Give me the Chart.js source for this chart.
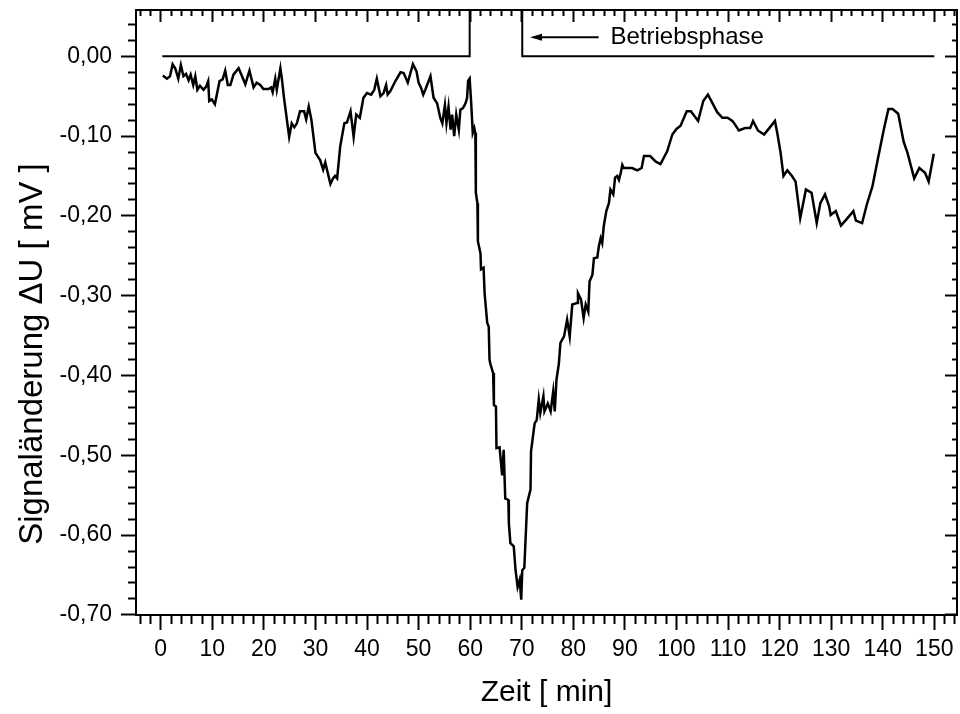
<!DOCTYPE html>
<html>
<head>
<meta charset="utf-8">
<script src="https://cdn.jsdelivr.net/npm/chart.js@4/dist/chart.umd.min.js"></script>
<style>
  html, body { margin: 0; padding: 0; background: #fff; }
  #wrap { width: 960px; height: 714px; }
</style>
</head>
<body>
<div id="wrap"><canvas id="myChart" width="960" height="714"></canvas></div>
<script>
// Signal trace
const timeMin = [
  0.4, 1.2, 1.8, 2.3, 2.8, 3.4, 3.9, 4.4, 4.9, 5.4, 5.8, 6.3, 6.7, 7.1, 7.6, 8.3, 8.8, 9.2, 9.4, 9.9,
  10.5, 11.4, 12.0, 12.5, 13.0, 13.5, 14.1, 15.1, 15.7, 16.4, 17.2, 18.0, 18.6, 19.3, 19.9, 20.9, 21.4, 21.7, 22.2, 22.5,
  23.2, 23.5, 23.9, 24.9, 25.4, 25.9, 26.4, 27.0, 27.8, 28.2, 28.7, 29.2, 30.0, 30.9, 31.5, 31.9, 32.9, 33.4, 33.8, 34.2,
  34.8, 35.6, 36.1, 36.8, 37.4, 37.9, 38.6, 39.3, 40.0, 40.8, 41.4, 41.9, 42.6, 43.2, 43.7, 44.0, 44.5, 45.5, 46.5, 47.1,
  47.9, 48.9, 49.6, 50.0, 50.5, 50.9, 51.3, 52.3, 52.9, 53.6, 54.2, 54.6, 55.1, 55.4, 55.8, 56.2, 56.5, 56.9, 57.3, 57.8,
  58.1, 58.6, 59.1, 59.4, 59.6, 59.9, 60.2, 60.5, 60.8, 61.0, 61.1, 61.4, 61.5, 62.0, 62.1, 62.6, 62.8, 63.3, 63.6, 63.75,
  63.9, 64.45, 64.6, 65.0, 65.1, 65.7, 66.2, 66.5, 66.8, 67.4, 67.5, 67.8, 68.45, 68.8, 69.2, 69.6, 69.9, 70.1, 70.5, 71.05,
  71.7, 71.8, 72.5, 72.9, 73.3, 73.6, 74.2, 74.4, 75.05, 75.6, 76.1, 76.4, 76.74, 77.2, 77.5, 78.2, 78.8, 79.3, 79.8, 80.8,
  80.9, 81.5, 82.0, 82.4, 82.9, 83.15, 83.7, 84.0, 84.65, 84.95, 85.3, 85.6, 85.9, 86.4, 86.9, 87.2, 87.75, 88.1, 88.5, 88.85,
  89.2, 89.5, 89.8, 90.5, 91.4, 92.4, 93.25, 93.7, 94.9, 96.0, 96.9, 98.2, 99.2, 100.0, 100.8, 102.0, 102.8, 104.2, 105.2, 106.1,
  107.0, 107.9, 108.9, 109.9, 110.85, 111.3, 112.1, 113.3, 114.3, 114.85, 115.8, 117.0, 118.0, 119.1, 119.6, 120.2, 120.75, 121.5, 122.4, 123.1,
  124.0, 125.1, 126.2, 127.2, 127.9, 128.8, 129.6, 129.9, 130.9, 131.9, 133.0, 134.3, 134.8, 136.0, 136.9, 138.0, 139.1, 140.2, 141.1, 141.9,
  143.0, 144.05, 144.8, 146.1, 147.1, 148.2, 148.9, 149.9
];
const signalMV = [
  -0.024, -0.028, -0.025, -0.010, -0.015, -0.028, -0.011, -0.025, -0.022, -0.030, -0.023, -0.036, -0.025, -0.042, -0.037, -0.042, -0.038, -0.031, -0.056, -0.054,
  -0.060, -0.031, -0.029, -0.018, -0.036, -0.036, -0.023, -0.015, -0.024, -0.035, -0.018, -0.039, -0.033, -0.036, -0.041, -0.041, -0.039, -0.045, -0.028, -0.042,
  -0.015, -0.029, -0.052, -0.101, -0.084, -0.089, -0.084, -0.069, -0.069, -0.079, -0.063, -0.079, -0.121, -0.130, -0.142, -0.133, -0.160, -0.153, -0.150, -0.153,
  -0.113, -0.084, -0.083, -0.069, -0.101, -0.073, -0.077, -0.052, -0.046, -0.048, -0.042, -0.028, -0.050, -0.046, -0.036, -0.048, -0.044, -0.031, -0.020, -0.021,
  -0.033, -0.010, -0.019, -0.033, -0.040, -0.048, -0.042, -0.025, -0.052, -0.059, -0.077, -0.084, -0.061, -0.084, -0.063, -0.092, -0.073, -0.100, -0.073, -0.092,
  -0.067, -0.065, -0.059, -0.052, -0.031, -0.028, -0.059, -0.096, -0.090, -0.096, -0.171, -0.184, -0.232, -0.247, -0.267, -0.265, -0.297, -0.334, -0.339, -0.380,
  -0.385, -0.397, -0.437, -0.439, -0.491, -0.490, -0.525, -0.493, -0.554, -0.556, -0.585, -0.610, -0.614, -0.644, -0.665, -0.656, -0.681, -0.644, -0.641, -0.560,
  -0.543, -0.495, -0.460, -0.456, -0.430, -0.447, -0.426, -0.445, -0.435, -0.445, -0.420, -0.445, -0.405, -0.385, -0.359, -0.351, -0.330, -0.351, -0.311, -0.309,
  -0.297, -0.305, -0.328, -0.311, -0.320, -0.282, -0.274, -0.253, -0.252, -0.238, -0.228, -0.234, -0.213, -0.194, -0.184, -0.167, -0.173, -0.152, -0.150, -0.155,
  -0.146, -0.136, -0.140, -0.140, -0.140, -0.143, -0.140, -0.125, -0.125, -0.132, -0.135, -0.119, -0.098, -0.091, -0.087, -0.069, -0.069, -0.081, -0.056, -0.048,
  -0.059, -0.070, -0.077, -0.077, -0.081, -0.085, -0.093, -0.090, -0.090, -0.081, -0.093, -0.098, -0.090, -0.081, -0.098, -0.121, -0.150, -0.143, -0.150, -0.157,
  -0.203, -0.167, -0.171, -0.209, -0.184, -0.173, -0.188, -0.199, -0.194, -0.212, -0.204, -0.194, -0.206, -0.209, -0.186, -0.163, -0.127, -0.092, -0.066, -0.066,
  -0.072, -0.107, -0.121, -0.153, -0.140, -0.146, -0.157, -0.122
];

// Betriebsphase marker (high level is clipped off the top of the plot)
const phaseX = [0.3, 59.9, 59.9, 70.1, 70.1, 150];
const phaseY = [0, 0, 0.2, 0.2, 0, 0];

// annotation arrow + label
const arrowX = [84.9, 71.6];
const arrowY = 0.024;
const phaseLabel = 'Betriebsphase';
const phaseLabelX = 87.2;

const xTitle = 'Zeit [ min]';
const yTitle = 'Signaländerung \u0394U [ mV ]';

const FONT = "'Liberation Sans', Arial, sans-serif";

function yLabel(v) {
  const k = Math.round(v * 100);
  if (k % 10 !== 0) return '';
  return (k / 100).toFixed(2).replace('.', ',');
}
function xLabel(v) {
  const k = Math.round(v);
  return k % 10 === 0 ? String(k) : '';
}

// minor ticks are shortened with a dash pattern
function isMajorX(c) { return c.tick && Math.round(c.tick.value) % 10 === 0; }
function isMajorY(c) { return c.tick && Math.round(c.tick.value * 100) % 10 === 0; }

const annotations = {
  id: 'annotations',
  afterDraw(chart) {
    const { ctx, scales: { x, y } } = chart;
    ctx.save();
    // arrow
    const xa = x.getPixelForValue(arrowX[0]);
    const xb = x.getPixelForValue(arrowX[1]);
    const ya = y.getPixelForValue(arrowY);
    ctx.strokeStyle = '#000';
    ctx.fillStyle = '#000';
    ctx.lineWidth = 2;
    ctx.beginPath();
    ctx.moveTo(xa, ya);
    ctx.lineTo(xb + 8, ya);
    ctx.stroke();
    ctx.beginPath();
    ctx.moveTo(xb, ya);
    ctx.lineTo(xb + 12, ya - 3.5);
    ctx.lineTo(xb + 12, ya + 3.5);
    ctx.closePath();
    ctx.fill();
    // label
    ctx.font = '24px ' + FONT;
    ctx.textAlign = 'left';
    ctx.textBaseline = 'middle';
    ctx.fillText(phaseLabel, x.getPixelForValue(phaseLabelX), ya);
    // y axis title
    ctx.translate(33, 354);
    ctx.rotate(-Math.PI / 2);
    ctx.font = '33px ' + FONT;
    ctx.textAlign = 'center';
    ctx.fillText(yTitle, 0, 0);
    ctx.restore();
  }
};

const outerGrid = (major) => ({
  drawOnChartArea: false,
  color: '#000',
  tickColor: '#000',
  tickWidth: 2,
  tickLength: 15,
  tickBorderDash: (c) => (major(c) ? [] : [8, 100])
});
const leftGrid = (major) => ({
  drawOnChartArea: false,
  color: '#000',
  tickColor: '#000',
  tickWidth: 2,
  tickLength: 15,
  tickBorderDash: (c) => (major(c) ? [] : [8, 7]),
  tickBorderDashOffset: (c) => (major(c) ? 0 : 8)
});
const innerTopGrid = (major) => ({
  drawOnChartArea: false,
  color: '#000',
  tickColor: '#000',
  tickWidth: 2,
  tickLength: -12,
  tickBorderDash: (c) => (major(c) ? [] : [6, 6]),
  tickBorderDashOffset: (c) => (major(c) ? 0 : 6)
});
const innerRightGrid = (major) => ({
  drawOnChartArea: false,
  color: '#000',
  tickColor: '#000',
  tickWidth: 2,
  tickLength: -12,
  tickBorderDash: (c) => (major(c) ? [] : [6, 100])
});
const border = { display: true, color: '#000', width: 2 };

const xRange = { min: -4.8, max: 154.4 };
const yRange = { min: -0.7001, max: 0.058 };

function noPadding(s) {
  s.paddingTop = 0; s.paddingBottom = 0; s.paddingLeft = 0; s.paddingRight = 0;
}

new Chart(document.getElementById('myChart'), {
  type: 'line',
  data: {
    datasets: [
      {
        data: timeMin.map((t, i) => ({ x: t, y: signalMV[i] })),
        borderColor: '#000',
        borderWidth: 2.5,
        pointRadius: 0,
        tension: 0,
        fill: false
      },
      {
        data: phaseX.map((t, i) => ({ x: t, y: phaseY[i] })),
        borderColor: '#000',
        borderWidth: 2,
        pointRadius: 0,
        tension: 0,
        fill: false
      }
    ]
  },
  plugins: [annotations],
  options: {
    responsive: false,
    animation: false,
    events: [],
    layout: { padding: { left: 0, right: 3, top: 10, bottom: 0 } },
    plugins: { legend: { display: false }, tooltip: { enabled: false } },
    scales: {
      x: {
        type: 'linear',
        position: 'bottom',
        ...xRange,
        border,
        grid: outerGrid(isMajorX),
        ticks: {
          stepSize: 2,
          includeBounds: false,
          autoSkip: false,
          maxRotation: 0,
          padding: 6,
          color: '#000',
          font: { family: FONT, size: 23 },
          callback: xLabel
        },
        title: {
          display: true,
          text: xTitle,
          color: '#000',
          font: { family: FONT, size: 30 },
          padding: { top: 0, bottom: 3 }
        },
        afterFit: (s) => { s.height = 99; noPadding(s); }
      },
      x2: {
        type: 'linear',
        position: 'top',
        ...xRange,
        border,
        grid: innerTopGrid(isMajorX),
        ticks: { stepSize: 2, includeBounds: false, autoSkip: false, display: false },
        afterFit: (s) => { s.height = 0; noPadding(s); }
      },
      y: {
        type: 'linear',
        position: 'left',
        ...yRange,
        border,
        grid: leftGrid(isMajorY),
        ticks: {
          stepSize: 0.02,
          includeBounds: false,
          autoSkip: false,
          padding: 9,
          color: '#000',
          font: { family: FONT, size: 23 },
          callback: yLabel
        },
        afterFit: (s) => { s.width = 136; noPadding(s); }
      },
      y2: {
        type: 'linear',
        position: 'right',
        ...yRange,
        border,
        grid: innerRightGrid(isMajorY),
        ticks: { stepSize: 0.02, includeBounds: false, autoSkip: false, display: false },
        afterFit: (s) => { s.width = 0; noPadding(s); }
      }
    }
  }
});
</script>
</body>
</html>
